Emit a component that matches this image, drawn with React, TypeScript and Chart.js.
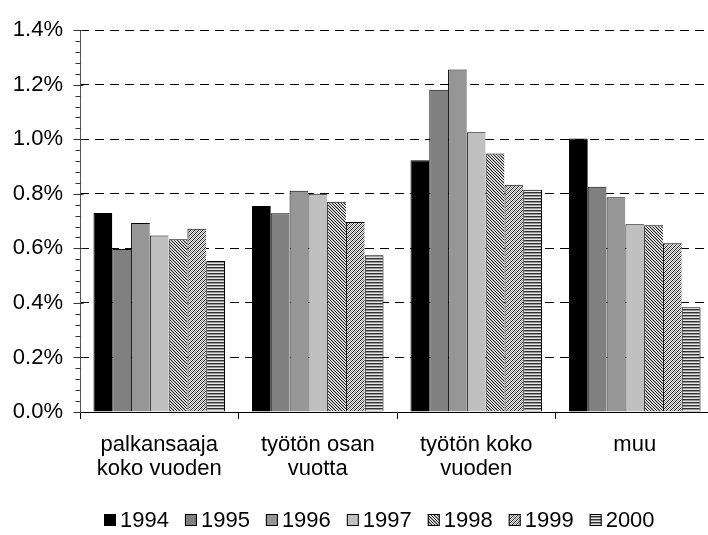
import React, { useEffect, useRef } from 'react';
import { Chart, registerables } from 'chart.js';

Chart.register(...registerables);

const FONT = "'Liberation Sans', Arial, Helvetica, sans-serif";

// Categories (multi-line labels)
const categories: string[][] = [
  ['palkansaaja', 'koko vuoden'],
  ['työtön osan', 'vuotta'],
  ['työtön koko', 'vuoden'],
  ['muu'],
];

// Series labels
const years: string[] = ['1994', '1995', '1996', '1997', '1998', '1999', '2000'];

// Values in percent
const v1994: number[] = [0.73, 0.755, 0.923, 1.003];
const v1995: number[] = [0.598, 0.729, 1.182, 0.826];
const v1996: number[] = [0.693, 0.811, 1.256, 0.787];
const v1997: number[] = [0.647, 0.8, 1.026, 0.688];
const v1998: number[] = [0.633, 0.771, 0.948, 0.685];
const v1999: number[] = [0.672, 0.697, 0.833, 0.619];
const v2000: number[] = [0.554, 0.575, 0.815, 0.384];

// Axis
const yMin = 0;
const yMax = 1.4;
const yStep = 0.2;
const yMinorStep = 0.04;

function makePattern(size: number, painter: (x: number, y: number) => [number, number, number]) {
  const c = document.createElement('canvas');
  c.width = size;
  c.height = size;
  const g = c.getContext('2d')!;
  const img = g.createImageData(size, size);
  for (let y = 0; y < size; y++) {
    for (let x = 0; x < size; x++) {
      const [r, gg, b] = painter(x, y);
      const i = (y * size + x) * 4;
      img.data[i] = r;
      img.data[i + 1] = gg;
      img.data[i + 2] = b;
      img.data[i + 3] = 255;
    }
  }
  g.putImageData(img, 0, 0);
  return g.createPattern(c, 'repeat')!;
}

export default function App() {
  const ref = useRef<HTMLCanvasElement>(null);

  useEffect(() => {
    const canvas = ref.current!;
    const p1998 = makePattern(6, (x, y) => {
      const d = (x - y + 12) % 3;
      if (d === 0) return [25, 25, 25];
      return (x + y) % 2 === 0 ? [190, 190, 190] : [245, 245, 245];
    });
    const p1999 = makePattern(4, (x, y) => {
      const k = (x + y) % 4;
      return k === 0 ? [25, 25, 25] : k === 2 ? [140, 140, 140] : [245, 245, 245];
    });
    const p2000 = makePattern(3, (_x, y) => (y === 0 ? [50, 50, 50] : y === 1 ? [150, 150, 150] : [230, 230, 230]));
    const fills: any[] = ['#000000', '#808080', '#969696', '#c0c0c0', p1998, p1999, p2000];
    const series = [v1994, v1995, v1996, v1997, v1998, v1999, v2000];

    const datasets = years.map((label, i) => ({
      label,
      data: series[i],
      backgroundColor: fills[i],
      borderColor: '#000000',
      borderWidth: i === years.length - 1
        ? { top: 1, left: 1, right: 1, bottom: 0 }
        : { top: 1, left: 1, right: 0, bottom: 0 },
      borderSkipped: false as any,
      categoryPercentage: 0.83,
      barPercentage: 1,
    }));

    const decor = {
      id: 'decor',
      afterDraw(chart: any) {
        const ctx = chart.ctx as CanvasRenderingContext2D;
        const y = chart.scales.y;
        const area = chart.chartArea;
        ctx.save();
        // y axis line
        ctx.strokeStyle = '#555555';
        ctx.lineWidth = 1;
        ctx.beginPath();
        const ax = Math.round(area.left) + 0.5;
        ctx.moveTo(ax, Math.round(area.top));
        ctx.lineTo(ax, Math.round(area.bottom) + 1);
        ctx.stroke();
        // ticks
        ctx.strokeStyle = '#333333';
        ctx.beginPath();
        const n = Math.round((yMax - yMin) / yMinorStep);
        const ratio = Math.round(yStep / yMinorStep);
        for (let i = 0; i <= n; i++) {
          const v = yMin + i * yMinorStep;
          const py = Math.round(y.getPixelForValue(v)) + 0.5;
          const major = i % ratio === 0;
          ctx.moveTo(major ? ax - 7 : ax - 5, py);
          ctx.lineTo(major ? ax + 3 : ax, py);
        }
        ctx.stroke();

        // legend
        ctx.font = `22px ${FONT}`;
        ctx.textBaseline = 'middle';
        ctx.textAlign = 'left';
        const box = 12;
        const gap = 4;
        const spacing = 16;
        const widths = years.map((t) => ctx.measureText(t).width);
        const total = widths.reduce((a, w) => a + box + gap + w, 0) + spacing * (years.length - 1);
        let x = Math.round(379 - total / 2);
        const cy = 520;
        years.forEach((t, i) => {
          ctx.fillStyle = fills[i];
          ctx.fillRect(x, cy - box / 2, box, box);
          ctx.strokeStyle = '#000';
          ctx.lineWidth = 1;
          ctx.strokeRect(x + 0.5, cy - box / 2 + 0.5, box - 1, box - 1);
          ctx.fillStyle = '#000';
          ctx.fillText(t, x + box + gap, cy + 1);
          x += box + gap + widths[i] + spacing;
        });
        ctx.restore();
      },
    };

    const chart = new Chart(canvas, {
      type: 'bar',
      data: { labels: categories as any, datasets: datasets as any },
      options: {
        animation: false,
        responsive: true,
        maintainAspectRatio: false,
        devicePixelRatio: 1,
        layout: { padding: { top: 16, right: 8, bottom: 50, left: 0 } },
        plugins: { legend: { display: false }, tooltip: { enabled: false } },
        scales: {
          x: {
            type: 'category',
            offset: true,
            grid: {
              display: true,
              offset: true,
              drawOnChartArea: false,
              drawTicks: true,
              tickLength: 7,
              color: '#000000',
            },
            border: { display: true, color: '#000000', width: 1 },
            ticks: {
              color: '#000000',
              font: { family: FONT, size: 22, lineHeight: 24 / 22 },
              padding: 14,
              maxRotation: 0,
              minRotation: 0,
              autoSkip: false,
            },
            afterFit: (s: any) => {
              s.height = 73;
            },
          },
          y: {
            min: yMin,
            max: yMax,
            ticks: {
              stepSize: yStep,
              color: '#000000',
              font: { family: FONT, size: 22 },
              padding: 17,
              callback: (v: any) => Number(v).toFixed(1) + '%',
            },
            grid: {
              drawTicks: false,
              lineWidth: 1,
              color: (c: any) => (c.tick && c.tick.value === 0 ? 'rgba(0,0,0,0)' : '#000000'),
            },
            border: { display: false, dash: [9, 6] },
            afterFit: (s: any) => {
              s.width = 80;
            },
          },
        },
      },
      plugins: [decor],
    });
    return () => chart.destroy();
  }, []);

  return (
    <div style={{ position: 'fixed', left: 0, top: 0, width: 708, height: 535, overflow: 'hidden', background: '#fff' }}>
      <div style={{ position: 'absolute', left: 0, top: 0, width: 722, height: 535 }}>
        <canvas ref={ref} />
      </div>
    </div>
  );
}
